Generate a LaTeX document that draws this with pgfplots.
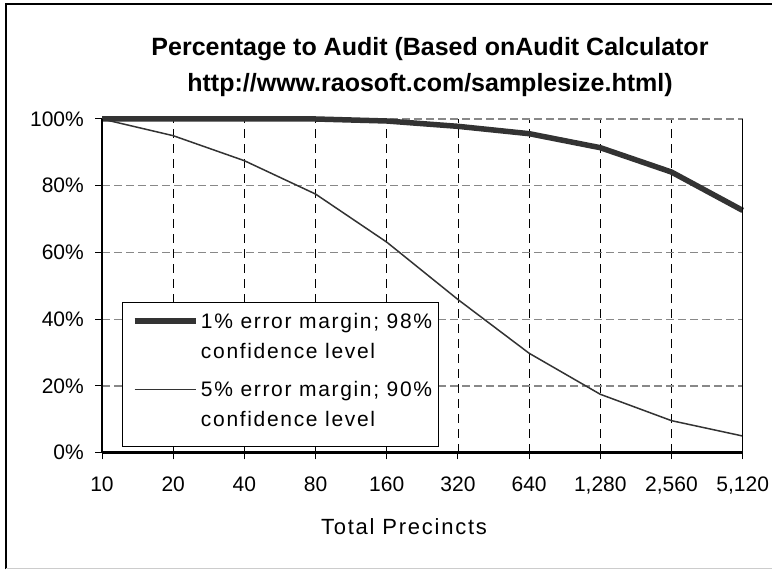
\documentclass[border=0pt]{standalone}
\usepackage{pgfplots}
\pgfplotsset{compat=1.18}
\usepackage{fontspec}
\setmainfont{Liberation Sans}
\newfontfamily\lsfont[LetterSpace=8]{Liberation Sans}
\definecolor{ser}{HTML}{333333}
\definecolor{gridg}{HTML}{888888}
\begin{document}
\begin{tikzpicture}[x=1pt,y=1pt]
\useasboundingbox (0,0) rectangle (772,570);
\draw[line width=2pt] (6,0.5) -- (6,566) -- (772,566);
\draw[line width=1.2pt, color=black!20] (6,1.2) -- (772,1.2);
\node[font=\fontsize{25}{30}\selectfont\bfseries] at (430,521.3) {Percentage to Audit (Based onAudit Calculator};
\node[font=\fontsize{25}{30}\selectfont\bfseries] at (430,485.4) {http://www.raosoft.com/samplesize.html)};
\node[font=\fontsize{22}{26}\lsfont] at (404,43) {Total Precincts};
\begin{axis}[
  at={(102pt,117.3pt)}, anchor=south west,
  scale only axis, width=640.7pt, height=333.7pt,
  xmin=0, xmax=9, ymin=0, ymax=100,
  clip=false,
  axis line style={draw=none},
  xtick={0,1,2,3,4,5,6,7,8,9},
  xticklabels={10,20,40,80,160,320,640,{1,280},{2,560},{5,120}},
  ytick={0,20,40,60,80,100},
  yticklabels={0\%,20\%,40\%,60\%,80\%,100\%},
  /pgf/number format/assume math mode=true,
  tick label style={font=\fontsize{21}{25}\selectfont},
  xticklabel style={anchor=base, inner sep=0pt, yshift=-32.3pt},
  yticklabel style={anchor=east, inner sep=0pt, xshift=-11.3pt},
  tick align=outside, major tick length=6.7pt,
  tick style={black, line width=1pt},
  xtick pos=left, ytick pos=left,
  grid=major,
  x grid style={black, line width=0.8pt, dash pattern=on 9pt off 6pt},
  y grid style={gridg, line width=1.3pt, dash pattern=on 8pt off 4pt},
  legend style={at={(rel axis cs:0.0312,0.018)}, anchor=south west,
    draw=black, line width=1pt, fill=white, inner sep=6.5pt,
    font=\fontsize{21}{25}\lsfont,
    nodes={inner sep=0pt, text depth=},
    cells={anchor=base west}, row sep=0pt, column sep=2pt},
  legend image code/.code={\path (0pt,0pt); \draw[#1] (3pt,7.5pt) -- (64.5pt,7.5pt);},
]
\addplot[color=ser, line width=5.5pt, line join=round] coordinates {
(0,100) (1,100) (2,100) (3,100) (4,99.4) (5,97.8) (6,95.6) (7,91.4) (8,84.1) (9,72.6)};
\addlegendentry{1\% error margin; 98\%\rule[-10pt]{0pt}{30pt}}
\addlegendimage{empty legend}
\addlegendentry{confidence level\rule[-18.3pt]{0pt}{38.3pt}}
\addplot[color=ser, line width=1.5pt, line join=round] coordinates {
(0,100) (1,95) (2,87.5) (3,77.5) (4,63.1) (5,45.9) (6,29.8) (7,17.5) (8,9.6) (9,5.0)};
\addlegendentry{5\% error margin; 90\%\rule[-10pt]{0pt}{30pt}}
\addlegendimage{empty legend}
\addlegendentry{confidence level\rule[-12.7pt]{0pt}{32.7pt}}
\draw[line width=2.5pt] (axis cs:0,0) -- (axis cs:9,0);
\draw[line width=1.5pt] (axis cs:0,0) -- (axis cs:0,100);
\draw[line width=1pt] (axis cs:9,0) -- (axis cs:9,100);
\end{axis}
\end{tikzpicture}
\end{document}
